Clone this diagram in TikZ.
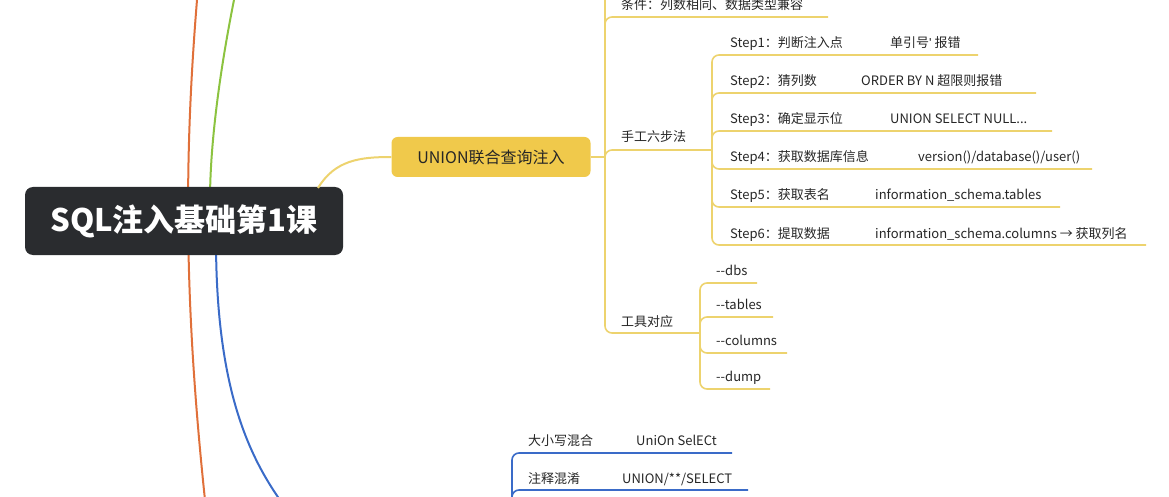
\documentclass[tikz,border=0pt]{standalone}
\usepackage{fontspec}
\setmainfont{Noto Sans CJK SC}
\newfontfamily\latfont{Liberation Sans}
\usetikzlibrary{positioning}
\definecolor{rootbg}{HTML}{2A2C2F}
\definecolor{orn}{HTML}{E0703A}
\definecolor{grn}{HTML}{8CC340}
\definecolor{blu}{HTML}{3A6BC8}
\definecolor{ylw}{HTML}{EDD36E}
\definecolor{ylwbox}{HTML}{F0C94B}
\tikzset{
  leaf/.style={anchor=base west, inner sep=0pt, font=\fontsize{13}{15}\selectfont, text=black!85},
  yline/.style={ylw, line width=1.6pt, rounded corners=7pt},
  bline/.style={blu, line width=1.6pt, rounded corners=7pt},
}
\begin{document}
\begin{tikzpicture}[x=1pt,y=-1pt]
\useasboundingbox (0,0) rectangle (1169,497);
\clip (0,0) rectangle (1169,497);

% main branches
\draw[orn, line width=2pt] (197,0) .. controls (184,160) and (184,300) .. (205,500);
\draw[grn, line width=2pt] (234,0) .. controls (218,80) and (210,150) .. (210,200);
\draw[blu, line width=2pt] (216,240) .. controls (216,380) and (245,450) .. (280,500);

\node(root)[fill=rootbg, rounded corners=8pt, minimum width=318pt, minimum height=68pt,
  text=white, font=\fontsize{31}{33}\selectfont\bfseries] at (184,221) {SQL注入基础第1课};

\node(union)[fill=ylwbox, rounded corners=6pt, minimum width=199pt, minimum height=40pt,
  font=\fontsize{16}{18}\selectfont, text=black!85] at (491,157) {UNION联合查询注入};
\draw[ylw, line width=2pt] (318,188) .. controls (335,160) and (360,157) .. (union.west);

% union children
\coordinate(j0) at (605,157);
\draw[yline] (union.east) -- (j0);
\draw[yline] (j0) -- (605,-10);
\node(cond)[leaf] at (621,10) {条件：列数相同、数据类型兼容};
\draw[yline] (j0) |- (828,17);
\node(manual)[leaf] at (621,142) {手工六步法};
\draw[yline] (j0) |- (712,150);
\node(tool)[leaf] at (621,326) {工具对应};
\draw[yline] (j0) |- (700,333);

% six steps
\coordinate(j1) at (712,150);
\foreach \i/\txt/\val/\vx/\ly/\ex in {
  1/{判断注入点}/{单引号{\latfont\char39} 报错}/890/55/978,
  2/{猜列数}/{ORDER BY N 超限则报错}/861/93/1036,
  3/{确定显示位}/{UNION SELECT NULL...}/890/131/1052,
  4/{获取数据库信息}/{version()/database()/user()}/918/169/1092,
  5/{获取表名}/{information\_schema.tables}/875/207/1060,
  6/{提取数据}/{information\_schema.columns → 获取列名}/875/245/1146} {
  \node(step\i)[leaf] at (730,\ly-7) {Step\i：\txt};
  \node(val\i)[leaf] at (\vx,\ly-7) {\val};
  \draw[yline] (j1) |- (\ex,\ly);
}

% tools
\coordinate(j2) at (700,333);
\foreach \i/\txt/\ly/\ex in {1/{-{}-dbs}/283/757, 2/{-{}-tables}/317/773, 3/{-{}-columns}/353/787, 4/{-{}-dump}/389/770} {
  \node(opt\i)[leaf] at (716,\ly-8) {\txt};
  \draw[yline] (j2) |- (\ex,\ly);
}

% bypass
\coordinate(j3) at (512,505);
\node(mix)[leaf] at (528,445) {大小写混合};
\node(mixv)[leaf] at (636,445) {UniOn SelECt};
\draw[bline] (j3) |- (732,453);
\node(cmt)[leaf] at (528,483) {注释混淆};
\node(cmtv)[leaf] at (622,483) {UNION/**/SELECT};
\draw[bline] (j3) |- (748,490);
\end{tikzpicture}
\end{document}
